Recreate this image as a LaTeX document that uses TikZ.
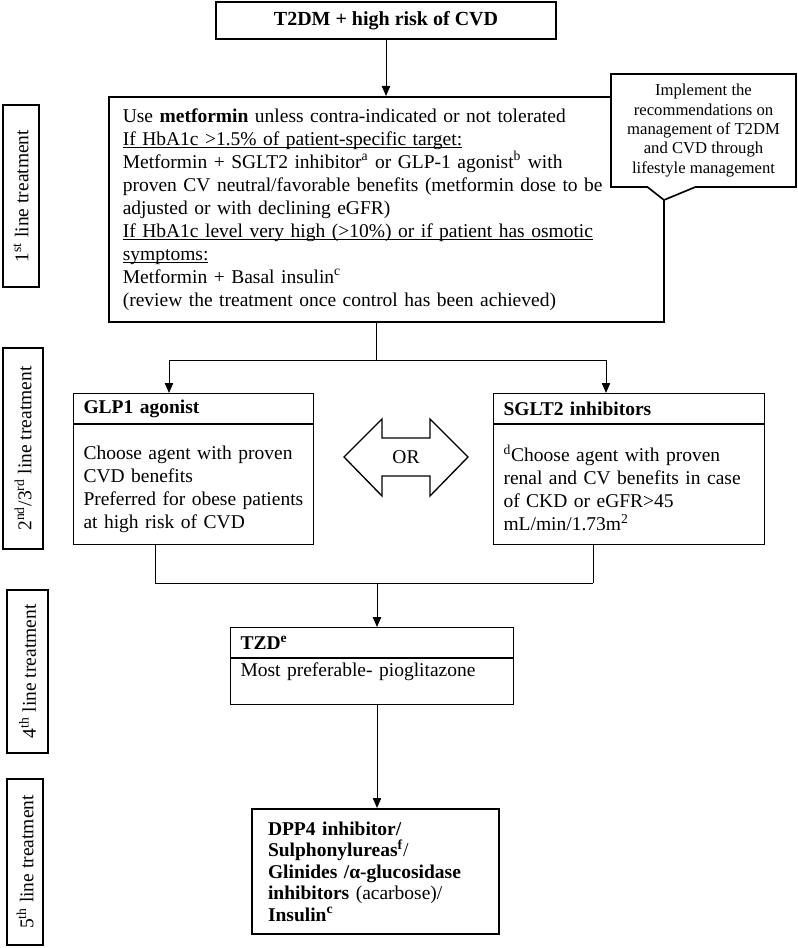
\documentclass[tikz,border=0pt]{standalone}
\usepackage{fontspec}
\setmainfont{Liberation Serif}
\usetikzlibrary{positioning,arrows.meta,shapes.callouts}
\newcommand\undl[1]{\underline{\smash{#1}}}
\newcommand\nohyph{\hyphenpenalty=10000\relax}

\begin{document}
\begin{tikzpicture}[x=0.6pt,y=-0.6pt]
\tikzset{
  box/.style = {draw, line width=1pt, inner sep=0pt, font=\fontsize{11.7pt}{13.8pt}\selectfont},
  sidebox/.style = {box, rotate=90},
  headbox/.style = {draw, line width=0.6pt, anchor=north west, inner xsep=6pt, inner ysep=0pt,
    minimum height=18pt, align=left, font=\bfseries\fontsize{11.7pt}{13.8pt}\selectfont},
  bodybox/.style = {draw, line width=0.6pt, below=0pt of #1, inner xsep=6pt, inner ysep=0pt,
    align=left, font=\nohyph\fontsize{11.7pt}{13.8pt}\selectfont},
  link/.style = {line width=0.6pt},
  arr/.style = {link, -{Triangle[length=6pt,width=5pt]}}
}
\useasboundingbox (0,0) rectangle (797,948);

% first line
\node[box, minimum width=204pt, minimum height=22.2pt, font=\bfseries\fontsize{12pt}{13.8pt}\selectfont] (start) at (386,20.5) {T2DM + high risk of CVD};
\node[box, anchor=north west, inner xsep=8.4pt, text width=316.2pt, minimum height=135pt, align=left] (main) at (108,96)
  {Use \textbf{metformin} unless contra-indicated or not tolerated\\
   \undl{If HbA1c >1.5\% of patient-specific target:}\\
   Metformin + SGLT2 inhibitor\textsuperscript{a} or GLP-1 agonist\textsuperscript{b} with\\
   proven CV neutral/favorable benefits (metformin dose to be\\
   adjusted or with declining eGFR)\\
   \undl{If HbA1c level very high (>10\%) or if patient has osmotic}\\
   \undl{symptoms:}\\
   Metformin + Basal insulin\textsuperscript{c}\\
   (review the treatment once control has been achieved)};
\node[rectangle callout, draw, line width=1pt, fill=white, minimum width=111pt, minimum height=67.8pt,
  callout absolute pointer={(664,200)}, callout pointer width=28.8pt, inner sep=0pt,
  align=center, font=\fontsize{10pt}{11.6pt}\selectfont] (note) at (703.5,130.5)
  {Implement the\\recommendations on\\management of T2DM\\and CVD through\\lifestyle management};

% second/third line
\node[headbox, minimum width=144pt, text width=132pt] (glphead) at (73,393) {GLP1 agonist};
\node[bodybox=glphead, minimum width=144pt, text width=132pt, minimum height=72pt] (glpbody)
  {\mbox{}\\Choose agent with proven\\CVD benefits\\Preferred for obese patients\\at high risk of CVD};
\node[headbox, minimum width=162.6pt, text width=150.6pt] (sglthead) at (493,393) {SGLT2 inhibitors};
\node[bodybox=sglthead, minimum width=162.6pt, text width=150.6pt, minimum height=72pt] (sgltbody)
  {\mbox{}\\\textsuperscript{d}Choose agent with proven\\renal and CV benefits in case\\of CKD or eGFR>45\\mL/min/1.73m\textsuperscript{2}};
\draw[line width=0.8pt] (344,457) -- (382,419) -- (382,438) -- (430,438) -- (430,419) -- (468,457)
  -- (430,496) -- (430,476) -- (382,476) -- (382,496) -- cycle;
\node[font=\fontsize{11.7pt}{13.8pt}\selectfont] (or) at (406,457) {OR};

% fourth line
\node[headbox, minimum width=169.8pt, text width=157.8pt] (tzdhead) at (230,627) {TZD\textsuperscript{e}};
\node[bodybox=tzdhead, minimum width=169.8pt, text width=157.8pt, minimum height=27.6pt] (tzdbody)
  {Most preferable- pioglitazone\\\mbox{}};

% fifth line
\node[box, line width=1.2pt, anchor=north west, inner xsep=9.6pt, text width=129pt, minimum height=75pt,
  align=left, font=\fontsize{11.7pt}{12.9pt}\selectfont] (last) at (251,808)
  {\textbf{DPP4 inhibitor/}\\
   \textbf{Sulphonylureas\textsuperscript{f}}/\\
   \textbf{Glinides /α-glucosidase}\\
   \textbf{inhibitors} (acarbose)/\\
   \textbf{Insulin\textsuperscript{c}}};

% side labels
\node[sidebox, minimum width=109.2pt, minimum height=21.6pt] (l1) at (21,196) {1\textsuperscript{st} line treatment};
\node[sidebox, minimum width=120.6pt, minimum height=24pt] (l2) at (23,448.5) {2\textsuperscript{nd}/3\textsuperscript{rd} line treatment};
\node[sidebox, minimum width=97.8pt, minimum height=24.6pt] (l3) at (27.5,671.5) {4\textsuperscript{th} line treatment};
\node[sidebox, minimum width=99.6pt, minimum height=21.6pt] (l4) at (25,862) {5\textsuperscript{th} line treatment};

% connectors
\coordinate (fork) at (376,360);
\coordinate (forkL) at (169,360);
\coordinate (forkR) at (606,360);
\coordinate (joinL) at (155,583);
\coordinate (joinR) at (593,583);
\coordinate (join) at (377,583);
\draw[arr] (start.south) -- (start.south |- main.north);
\draw[link] (fork |- main.south) -- (fork);
\draw[link] (forkL) -- (forkR);
\draw[arr] (forkL) -- (forkL |- glphead.north);
\draw[arr] (forkR) -- (forkR |- sglthead.north);
\draw[link] (joinL |- glpbody.south) -- (joinL);
\draw[link] (joinR |- sgltbody.south) -- (joinR);
\draw[link] (joinL) -- (joinR);
\draw[arr] (join) -- (join |- tzdhead.north);
\draw[arr] (join |- tzdbody.south) -- (join |- last.north);
\end{tikzpicture}
\end{document}
